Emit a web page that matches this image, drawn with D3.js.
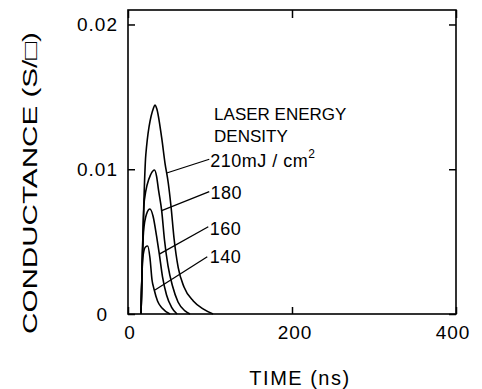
<!DOCTYPE html>
<html>
<head>
<meta charset="utf-8">
<script src="https://cdn.jsdelivr.net/npm/d3@7"></script>
<style>
  body { margin: 0; background: #fff; }
  text { font-family: "Liberation Sans", Arial, Helvetica, sans-serif; fill: #000; }
</style>
</head>
<body>
<script>
// laser energy densities (mJ/cm2)
const energies = [210, 180, 160, 140];

// time (ns) / conductance (S/sq), one pair per curve
const time210 = [15.9, 21.7, 31.1, 32.9, 35.0, 41.1, 45.1, 49.1, 52.4, 56.1, 61.3, 68.3, 79.6, 91.5, 103.7];
const cond210 = [0, 0.01098, 0.01423, 0.01444, 0.0142, 0.01216, 0.01043, 0.00905, 0.00746, 0.00525, 0.00318, 0.00187, 0.0009, 0.00035, 0];
const time180 = [15.9, 20.0, 28.0, 32.3, 34.8, 37.2, 41.1, 44.5, 48.8, 54.3, 61.0, 69.5, 75.6];
const cond180 = [0, 0.00788, 0.00967, 0.00995, 0.00953, 0.00857, 0.00712, 0.00511, 0.00332, 0.00193, 0.00083, 0.00021, 0];
const time160 = [15.9, 18.9, 22.6, 26.8, 30.5, 34.8, 38.2, 42.1, 47.0, 53.0, 59.8];
const cond160 = [0, 0.00566, 0.00691, 0.00725, 0.00677, 0.00539, 0.00414, 0.00256, 0.00131, 0.00048, 0];
const time140 = [15.9, 18.0, 21.3, 24.0, 26.8, 29.3, 31.7, 36.0, 41.5, 51.2];
const cond140 = [0, 0.00387, 0.00463, 0.0047, 0.00387, 0.00235, 0.00173, 0.0009, 0.00041, 0];

// leader lines: curve point -> label point (time, conductance)
const leaderFrom = [[47.2, 0.00974], [41.1, 0.00714], [38.2, 0.00414], [32.9, 0.00166]];
const leaderTo   = [[99.1, 0.01069], [99.1, 0.00845], [97.9, 0.00603], [96.7, 0.00396]];
const labelAt    = [[100.3, 0.01015], [100.6, 0.00794], [99.8, 0.00546], [99.8, 0.00352]];
const legendTitle = ["LASER ENERGY", "DENSITY"];
const legendTitleAt = [[105.0, 0.0134], [105.0, 0.01188]];

const xTicks = [0, 200, 400];
const yTicks = [0, 0.01, 0.02];
const xTickLabels = ["0", "200", "400"];
const yTickLabels = ["0", "0.01", "0.02"];

const width = 482, height = 389;
const margin = {top: 10, right: 26, bottom: 75, left: 128};

const svg = d3.select('body').append('svg')
    .attr('width', width)
    .attr('height', height);

const x = d3.scaleLinear().domain([0, 400]).range([margin.left, width - margin.right]);
const y = d3.scaleLinear().domain([0, 0.021]).range([height - margin.bottom, margin.top]);

const series = [
  {e: 210, t: time210, v: cond210},
  {e: 180, t: time180, v: cond180},
  {e: 160, t: time160, v: cond160},
  {e: 140, t: time140, v: cond140}
];

// inward ticks on all four sides
svg.append('g')
    .attr('transform', `translate(0,${y(0)})`)
    .call(d3.axisTop(x).tickValues(xTicks).tickSize(7).tickFormat(''))
    .call(g => g.select('.domain').remove());
svg.append('g')
    .attr('transform', `translate(0,${y(0.021)})`)
    .call(d3.axisBottom(x).tickValues(xTicks).tickSize(8).tickFormat(''))
    .call(g => g.select('.domain').remove());
svg.append('g')
    .attr('transform', `translate(${x(0)},0)`)
    .call(d3.axisRight(y).tickValues(yTicks).tickSize(7).tickFormat(''))
    .call(g => g.select('.domain').remove());
svg.append('g')
    .attr('transform', `translate(${x(400)},0)`)
    .call(d3.axisLeft(y).tickValues(yTicks).tickSize(7).tickFormat(''))
    .call(g => g.select('.domain').remove());
svg.selectAll('.tick line').attr('stroke', '#000').attr('stroke-width', 1.5);

// frame
svg.append('rect')
    .attr('x', x(0)).attr('y', y(0.021))
    .attr('width', x(400) - x(0)).attr('height', y(0) - y(0.021))
    .attr('fill', 'none').attr('stroke', '#000').attr('stroke-width', 1.6);

// tick labels
svg.selectAll('.xlab').data(xTicks).enter().append('text')
    .attr('x', d => x(d) + (d === 400 ? -3 : d === 200 ? 3 : 2))
    .attr('y', y(0) + 25)
    .attr('text-anchor', 'middle')
    .attr('font-size', 19)
    .attr('letter-spacing', 1)
    .text((d, i) => xTickLabels[i]);
svg.selectAll('.ylab').data(yTicks).enter().append('text')
    .attr('x', d => d === 0 ? x(0) - 20 : x(0) - 10)
    .attr('y', d => y(d) + 7)
    .attr('text-anchor', 'end')
    .attr('font-size', 19)
    .attr('letter-spacing', 1)
    .text((d, i) => yTickLabels[i]);

// axis titles
svg.append('text')
    .attr('x', 300).attr('y', 385)
    .attr('text-anchor', 'middle')
    .attr('font-size', 20)
    .attr('letter-spacing', 1.5)
    .text('TIME (ns)');
svg.append('text')
    .attr('transform', 'translate(37,183) rotate(-90)')
    .attr('text-anchor', 'middle')
    .attr('font-size', 20)
    .attr('textLength', 302)
    .attr('lengthAdjust', 'spacingAndGlyphs')
    .text('CONDUCTANCE (S/\u25A1)');

// curves
const line = d3.line()
    .x(d => x(d[0]))
    .y(d => y(d[1]))
    .curve(d3.curveMonotoneX);

svg.append('g').selectAll('path').data(series).enter().append('path')
    .attr('d', s => line(s.t.map((t, i) => [t, s.v[i]])))
    .attr('fill', 'none')
    .attr('stroke', '#000')
    .attr('stroke-width', 1.6)
    .attr('stroke-linejoin', 'round');

// leader lines + labels
svg.append('g').selectAll('line').data(energies).enter().append('line')
    .attr('x1', (d, i) => x(leaderFrom[i][0])).attr('y1', (d, i) => y(leaderFrom[i][1]))
    .attr('x2', (d, i) => x(leaderTo[i][0])).attr('y2', (d, i) => y(leaderTo[i][1]))
    .attr('stroke', '#000').attr('stroke-width', 1.3);

const labels = svg.append('g').selectAll('text').data(energies).enter().append('text')
    .attr('x', (d, i) => x(labelAt[i][0]))
    .attr('y', (d, i) => y(labelAt[i][1]))
    .attr('font-size', 18)
    .attr('letter-spacing', 0.5);
labels.each(function(d, i) {
  const t = d3.select(this);
  if (i === 0) {
    t.append('tspan').text(d + 'mJ / cm');
    t.append('tspan').attr('dy', -9).attr('font-size', 12).text('2');
  } else {
    t.text(d);
  }
});

svg.append('g').selectAll('text').data(legendTitle).enter().append('text')
    .attr('x', (d, i) => x(legendTitleAt[i][0]))
    .attr('y', (d, i) => y(legendTitleAt[i][1]))
    .attr('font-size', 17)
    .text(d => d);
</script>
</body>
</html>
